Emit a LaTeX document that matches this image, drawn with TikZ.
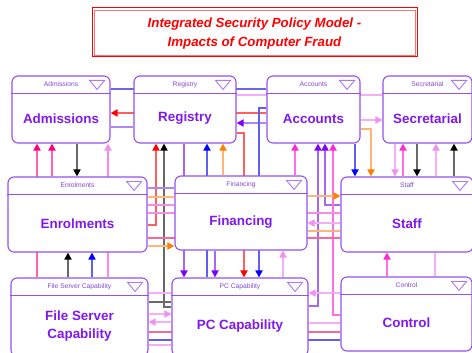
\documentclass[tikz,border=0pt]{standalone}
\usepackage{fontspec}
\setmainfont{Liberation Sans}
\usetikzlibrary{arrows.meta}
\pgfdeclarelayer{paper}
\pgfdeclarelayer{background}
\pgfsetlayers{paper,background,main}
\definecolor{boxc}{RGB}{150,80,240}
\definecolor{lblc}{RGB}{128,24,240}
\definecolor{hdrc}{RGB}{130,70,225}
\definecolor{tric}{RGB}{170,120,245}
\definecolor{dpL}{RGB}{255,100,175}\definecolor{dpH}{RGB}{255,0,128}
\definecolor{mgL}{RGB}{255,110,230}\definecolor{mgH}{RGB}{255,40,215}
\definecolor{lpL}{RGB}{245,175,245}\definecolor{lpH}{RGB}{240,145,240}
\definecolor{bkL}{RGB}{105,105,105}\definecolor{bkH}{RGB}{0,0,0}
\definecolor{buL}{RGB}{95,95,240}\definecolor{buH}{RGB}{0,0,255}
\definecolor{rdL}{RGB}{255,95,95}\definecolor{rdH}{RGB}{255,0,0}
\definecolor{orL}{RGB}{255,180,120}\definecolor{orH}{RGB}{255,128,0}
\definecolor{puL}{RGB}{165,105,240}\definecolor{puH}{RGB}{128,0,255}
\definecolor{lvL}{RGB}{175,135,240}
\definecolor{smL}{RGB}{245,105,150}
\definecolor{slL}{RGB}{105,105,230}
\definecolor{mlL}{RGB}{250,140,230}
\definecolor{titin}{RGB}{240,120,120}
\tikzset{
  x=1pt, y=-1pt,
  ispbox/.style={draw=boxc, line width=1.1pt, fill=white, rounded corners=6pt, inner sep=0pt},
  boxline/.style={draw=boxc, line width=1.1pt},
  hdr/.style={text=hdrc, font=\fontsize{6.7}{8}\selectfont, inner sep=0pt},
  lbl/.style={text=lblc, font=\bfseries\fontsize{13.4}{18}\selectfont, align=center, inner sep=0pt},
  tri/.style={draw=tric, line width=0.9pt, line join=miter},
  cn/.style={line width=1.8pt},
  tip/.style={-{Triangle[width=7pt,length=7pt,color=#1]}},
  dpA/.style={cn, draw=dpL, tip=dpH},
  mg/.style={cn, draw=mgL}, mgA/.style={cn, draw=mgL, tip=mgH},
  lp/.style={cn, draw=lpL}, lpA/.style={cn, draw=lpL, tip=lpH},
  bk/.style={cn, draw=bkL}, bkA/.style={cn, draw=bkL, tip=bkH},
  bu/.style={cn, draw=buL}, buA/.style={cn, draw=buL, tip=buH},
  rd/.style={cn, draw=rdL}, rdA/.style={cn, draw=rdL, tip=rdH},
  or/.style={cn, draw=orL}, orA/.style={cn, draw=orL, tip=orH},
  puA/.style={cn, draw=puL, tip=puH},
  lv/.style={cn, draw=lvL},
  sm/.style={cn, draw=smL},
  sl/.style={cn, draw=slL},
  ml/.style={cn, draw=mlL},
}
\newcommand\ispbox[7]{%
  \node[ispbox, minimum width={#4-#2}, minimum height={#5-#3}] (#1) at ({(#2+#4)/2},{(#3+#5)/2}) {};
  \draw[boxline] ([yshift=-18pt]#1.north west) -- ([yshift=-18pt]#1.north east);
  \node[hdr] (#1-h) at ([yshift=-9pt]#1.north) {#6};
  \draw[tri] ([xshift=-21pt,yshift=-5pt]#1.north east) -- ([xshift=-6pt,yshift=-5pt]#1.north east) -- ([xshift=-13.5pt,yshift=-14pt]#1.north east) -- cycle;
  \node[lbl] (#1-l) at ([yshift=-9pt]#1.center) {#7};
}
\begin{document}
\begin{tikzpicture}
\useasboundingbox (0,0) rectangle (472,353);
\begin{pgfonlayer}{paper}
\fill[white] (0,0) rectangle (472,353);
\end{pgfonlayer}
% title
\node[draw=red, line width=1pt, minimum width=325pt, minimum height=49pt, inner sep=0pt] (title) at (254.5,32.5) {};
\draw[titin, line width=0.9pt] ([shift={(2.5pt,-2.5pt)}]title.north west) rectangle ([shift={(-2.5pt,2.5pt)}]title.south east);
\node[text=red, font=\bfseries\itshape\fontsize{13.3}{19}\selectfont, align=center, inner sep=0pt] (title-t) at (254.5,33.5) {Integrated Security Policy Model -\\Impacts of Computer Fraud};
% boxes
\ispbox{adm}{12}{76}{110}{143}{Admissions}{Admissions}
\ispbox{reg}{134}{76}{236}{143}{Registry}{Registry}
\ispbox{acc}{267}{76}{360}{143}{Accounts}{Accounts}
\ispbox{sec}{383}{76}{472}{143}{Secretarial}{Secretarial}
\ispbox{enr}{8}{177}{147}{252}{Enrolments}{Enrolments}
\ispbox{fin}{175}{176}{307}{250}{Financing}{Financing}
\ispbox{stf}{341}{177}{473}{252}{Staff}{Staff}
\ispbox{fsc}{11}{278}{148}{356}{File Server Capability}{File Server\\Capability}
\ispbox{pcc}{172}{278}{308}{356}{PC Capability}{PC Capability}
\ispbox{ctl}{341}{277}{472}{351}{Control}{Control}
\begin{pgfonlayer}{background}
% top row
\draw[sl] (adm.east |- 0,89) -- (acc.west |- 0,89);
\draw[rdA] (acc.west |- 0,113) -- (adm.east |- 0,113);
\draw[lv] (adm.east |- 0,127) -- (reg.west |- 0,127);
\draw[lp] (reg.east |- 0,95) -- (sec.west |- 0,95);
\draw[puA, draw=lvL] (acc.west |- 0,123) -- (reg.east |- 0,123);
\draw[rdA] (reg.east |- 0,133) -| (pcc.north -| 244,0);
\draw[buA] (acc.west |- 0,108) -| (pcc.north -| 259,0);
\draw[lpA] (acc.east |- 0,120) -- (sec.west |- 0,120);
\draw[orA] (acc.east |- 0,129) -| (stf.north -| 371,0);
% below Admissions
\draw[dpA] (fsc.north -| 37,0) -- (adm.south -| 37,0);
\draw[dpA] (enr.north -| 52,0) -- (adm.south -| 52,0);
\draw[bkA] (adm.south -| 77,0) -- (enr.north -| 77,0);
\draw[lpA, draw=mlL] (fsc.north -| 108,0) -- (adm.south -| 108,0);
% below Registry
\draw[rdA] (enr.east |- 0,225) -| (reg.south -| 156,0);
\draw[bkA] (pcc.west |- 0,307) -| (reg.south -| 164,0);
\draw[puA] (reg.south -| 184,0) -- (pcc.north -| 184,0);
\draw[buA] (pcc.north -| 207,0) -- (reg.south -| 207,0);
\draw[orA] (fin.north -| 223,0) -- (reg.south -| 223,0);
\draw[puA] (fin.south -| 215,0) -- (pcc.north -| 215,0);
\draw[lpA] (pcc.north -| 283,0) -- (fin.south -| 283,0);
% below Accounts
\draw[mgA] (fin.north -| 295,0) -- (acc.south -| 295,0);
\draw[puA] (pcc.east |- 0,306) -| (acc.south -| 318,0);
\draw[puA] (stf.west |- 0,205) -| (acc.south -| 325,0);
\draw[mgA] (ctl.west |- 0,315) -| (acc.south -| 333,0);
\draw[buA] (acc.south -| 355,0) -- (stf.north -| 355,0);
% below Secretarial
\draw[lpA] (sec.south -| 395,0) -- (stf.north -| 395,0);
\draw[mgA] (stf.north -| 403,0) -- (sec.south -| 403,0);
\draw[bkA] (sec.south -| 417,0) -- (stf.north -| 417,0);
\draw[lpA] (stf.north -| 436,0) -- (sec.south -| 436,0);
\draw[bkA] (stf.north -| 454,0) -- (sec.south -| 454,0);
% Enrolments - Financing - Staff
\draw[lv] (enr.east |- 0,188) -- (fin.west |- 0,188);
\draw[or] (enr.east |- 0,197) -- (fin.west |- 0,197);
\draw[ml] (enr.east |- 0,205) -- (fin.west |- 0,205);
\draw[ml] (enr.east |- 0,213) -- (stf.west |- 0,213);
\draw[sm] (enr.east |- 0,238) -- (stf.west |- 0,238);
\draw[orA] (enr.east |- 0,246) -- (fin.west |- 0,246);
\draw[orA] (fin.east |- 0,196) -- (stf.west |- 0,196);
\draw[lpA] (stf.west |- 0,223) -- (fin.east |- 0,223);
\draw[or] (fin.east |- 0,231) -- (stf.west |- 0,231);
% Enrolments - FSC
\draw[bkA] (fsc.north -| 68,0) -- (enr.south -| 68,0);
\draw[buA] (fsc.north -| 92,0) -- (enr.south -| 92,0);
% FSC - PC - Control
\draw[lp] (fsc.east |- 0,293) -- (pcc.west |- 0,293);
\draw[bk] (fsc.east |- 0,302) -- (pcc.west |- 0,302);
\draw[lpA] (fsc.east |- 0,314) -- (pcc.west |- 0,314);
\draw[lpA] (pcc.west |- 0,322) -- (fsc.east |- 0,322);
\draw[sm] (fsc.east |- 0,332) -- (ctl.west |- 0,332);
\draw[bu] (fsc.east |- 0,340) -- (ctl.west |- 0,340);
\draw[lp] (fsc.east |- 0,345) -- (pcc.west |- 0,345);
\draw[lpA] (ctl.west |- 0,293) -- (pcc.east |- 0,293);
\draw[lp] (pcc.east |- 0,323) -- (ctl.west |- 0,323);
% Staff - Control
\draw[mgA] (ctl.north -| 387,0) -- (stf.south -| 387,0);
\draw[lp] (stf.south -| 435,0) -- (ctl.north -| 435,0);
\end{pgfonlayer}
\end{tikzpicture}
\end{document}
